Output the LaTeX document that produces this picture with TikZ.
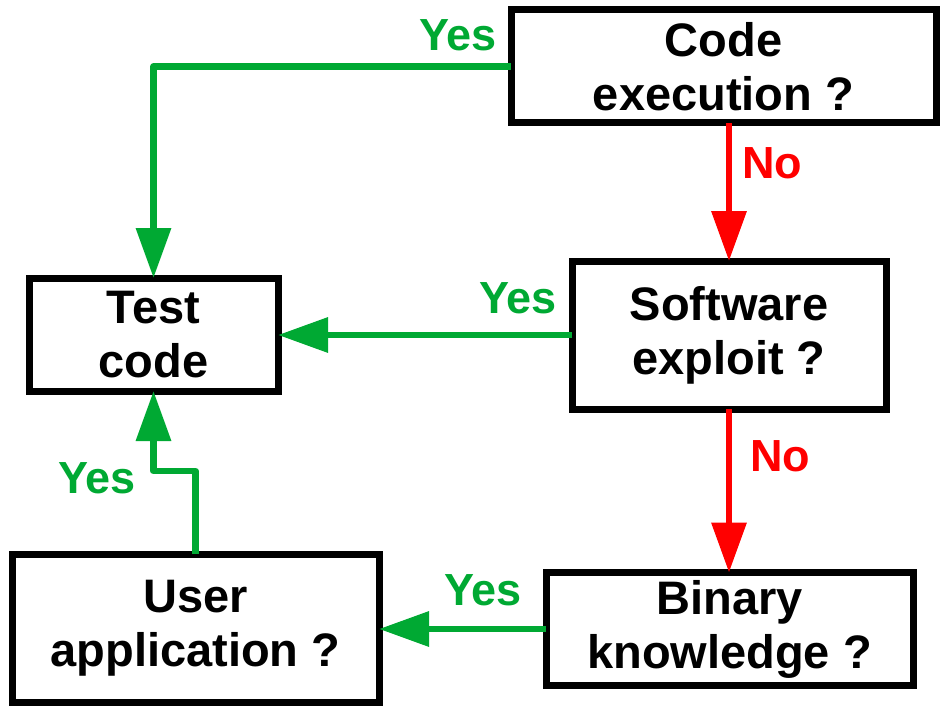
\documentclass[tikz,border=0pt]{standalone}
\usepackage{fontspec}
\setmainfont{Liberation Sans}
\usetikzlibrary{arrows.meta}
\definecolor{ygreen}{RGB}{0,169,51}
\definecolor{nred}{RGB}{255,0,0}
\begin{document}
\begin{tikzpicture}[x=1pt,y=-1pt,
  box/.style={draw=black, line width=7pt, rectangle, outer sep=0pt, inner sep=0pt, align=center,
    font=\fontsize{47}{54}\selectfont\bfseries},
  lbl/.style={font=\fontsize{45}{54}\selectfont\bfseries, inner sep=0pt},
  conn/.style={line width=6.5pt, line join=round, -{Triangle[length=50pt,width=34pt]}},
  yes/.style={conn, draw=ygreen},
  no/.style={conn, draw=nred}]
\path[use as bounding box] (0,0) rectangle (945,706);
\node[box, minimum width=425pt, minimum height=113pt] (code) at (723.5,66.5) {Code\\execution ?};
\node[box, minimum width=314pt, minimum height=148pt] (soft) at (729,335) {Software\\exploit ?};
\node[box, minimum width=249pt, minimum height=113pt] (test) at (153.5,334.5) {Test\\code};
\node[box, minimum width=367pt, minimum height=113pt] (bin) at (729.5,629) {Binary\\knowledge ?};
\node[box, minimum width=367pt, minimum height=148pt] (user) at (195.5,628) {User\\application ?};
\coordinate (bendy) at (0,471);
\draw[yes] (code.west) -| (test.north);
\draw[no] (code.south -| soft.north) -- (soft.north);
\draw[yes] (soft.west) -- (soft.west -| test.east);
\draw[no] (soft.south) -- (soft.south |- bin.north);
\draw[yes] (bin.west) -- (bin.west -| user.east);
\draw[yes] (user.north) -- (user.north |- bendy) -| (test.south);
\node[lbl, text=ygreen] (y1) at (458,35) {Yes};
\node[lbl, text=nred] (n1) at (772,163) {No};
\node[lbl, text=ygreen] (y2) at (518,298) {Yes};
\node[lbl, text=nred] (n2) at (780,456) {No};
\node[lbl, text=ygreen] (y3) at (483,590) {Yes};
\node[lbl, text=ygreen] (y4) at (97,478) {Yes};
\end{tikzpicture}
\end{document}
